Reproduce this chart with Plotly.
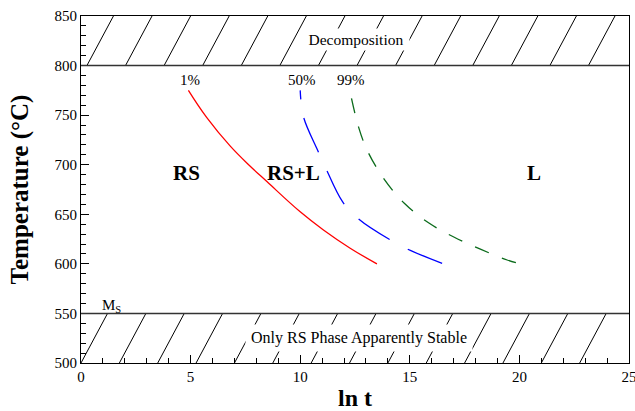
import numpy as np
import plotly.graph_objects as go

FONT = "Liberation Serif, Times New Roman, serif"

# ---- data ----
x_1pct = [4.90, 5.74, 6.80, 7.72, 8.48, 10.00, 11.06, 12.28, 13.50]
t_1pct = [775, 747.5, 719.0, 698.5, 683.0, 652.5, 634.2, 615.8, 600]

x_50pct = [10.00, 10.15, 10.79, 11.17, 11.93, 12.66, 14.19, 15.05, 16.54]
t_50pct = [775, 748.3, 714.8, 696.3, 662.7, 645.3, 623.1, 613.3, 600]

x_99pct = [12.34, 12.66, 13.05, 13.80, 14.75, 15.89, 17.03, 18.22, 19.44, 20.05]
t_99pct = [767, 738.2, 714.8, 686.3, 661.1, 640.9, 626.8, 614.8, 603.9, 600]

curve_labels = ["1%", "50%", "99%"]
curve_label_x = [4.95, 10.1, 12.32]
curve_label_t = [785, 785, 785]

region_labels = ["RS", "RS+L", "L"]
region_x = [4.83, 9.7, 20.65]
region_t = [692, 692, 692]

decomp_t = 800          # decomposition boundary
ms_t = 550              # Ms boundary
x_range = [0, 25]
t_range = [500, 850]

fig = go.Figure()

fig.add_trace(go.Scatter(x=x_1pct, y=t_1pct, mode="lines", line_shape="spline",
                         line=dict(color="#ff0000", width=1.3, smoothing=1.2), showlegend=False))
fig.add_trace(go.Scatter(x=x_50pct, y=t_50pct, mode="lines", line_shape="spline",
                         line=dict(color="#0000ff", width=1.3,
                                   dash="9px,19px,37px,21px,37px,21px,37px,21px,37px,21px"),
                         showlegend=False))
fig.add_trace(go.Scatter(x=x_99pct, y=t_99pct, mode="lines", line_shape="spline",
                         line=dict(color="#0b6b1b", width=1.3, dash="15px,14px"),
                         showlegend=False))

shapes = []
# hatching of the top and bottom bands
hatch_dx = 1.21
for xb in 0.27 + 1.76 * np.arange(14):
    shapes.append(dict(type="line", xref="x", yref="y", x0=xb, y0=decomp_t,
                       x1=xb + hatch_dx, y1=t_range[1], line=dict(color="black", width=1)))
for xb in 0.0 + 1.75 * np.arange(14):
    shapes.append(dict(type="line", xref="x", yref="y", x0=xb, y0=t_range[0],
                       x1=xb + hatch_dx, y1=ms_t, line=dict(color="black", width=1)))
for t in (decomp_t, ms_t):
    shapes.append(dict(type="line", xref="x", yref="y", x0=x_range[0], x1=x_range[1],
                       y0=t, y1=t, line=dict(color="#333333", width=1.6)))

annotations = []
annotations.append(dict(x=12.53, y=826.5, xref="x", yref="y", text="Decomposition",
                        showarrow=False, font=dict(family=FONT, size=15.5, color="black"),
                        bgcolor="white", width=104, height=19, borderpad=1))
annotations.append(dict(x=12.66, y=525, xref="x", yref="y", text="Only RS Phase Apparently Stable",
                        showarrow=False, font=dict(family=FONT, size=16, color="black"),
                        bgcolor="white", width=224, height=24, borderpad=1))
for txt, xx, tt in zip(curve_labels, curve_label_x, curve_label_t):
    annotations.append(dict(x=xx, y=tt, xref="x", yref="y", text=txt, showarrow=False,
                            font=dict(family=FONT, size=15, color="black")))
for txt, xx, tt in zip(region_labels, region_x, region_t):
    annotations.append(dict(x=xx, y=tt, xref="x", yref="y", text="<b>%s</b>" % txt,
                            showarrow=False, font=dict(family=FONT, size=21, color="black")))
annotations.append(dict(x=0.87, y=558, xref="x", yref="y", text="M<sub>S</sub>",
                        xanchor="left", showarrow=False,
                        font=dict(family=FONT, size=15, color="black")))

fig.update_layout(
    width=635, height=411,
    margin=dict(l=81, r=6, t=16, b=48, autoexpand=False),
    paper_bgcolor="white", plot_bgcolor="white",
    font=dict(family=FONT, size=15, color="black"),
    shapes=shapes, annotations=annotations,
    showlegend=False,
)
fig.update_xaxes(range=x_range, dtick=5, tick0=0, ticks="inside", ticklen=8, tickwidth=1,
                 tickcolor="black", showgrid=False, zeroline=False, automargin=False,
                 showline=True, linecolor="black", linewidth=1, mirror=True,
                 tickfont=dict(family=FONT, size=15), ticklabeloverflow="allow",
                 minor=dict(dtick=1, ticks="inside", ticklen=5, tickcolor="black", showgrid=False),
                 title=dict(text="<b>ln t</b>", font=dict(family=FONT, size=24), standoff=9))
fig.update_yaxes(range=t_range, dtick=50, tick0=500, ticks="inside", ticklen=8, tickwidth=1,
                 tickcolor="black", showgrid=False, zeroline=False, automargin=False,
                 showline=True, linecolor="black", linewidth=1, mirror=True,
                 tickfont=dict(family=FONT, size=15),
                 minor=dict(dtick=10, ticks="inside", ticklen=5, tickcolor="black", showgrid=False),
                 title=dict(text="<b>Temperature (°C)</b>", font=dict(family=FONT, size=25), standoff=18))

fig.write_html("out.html")
